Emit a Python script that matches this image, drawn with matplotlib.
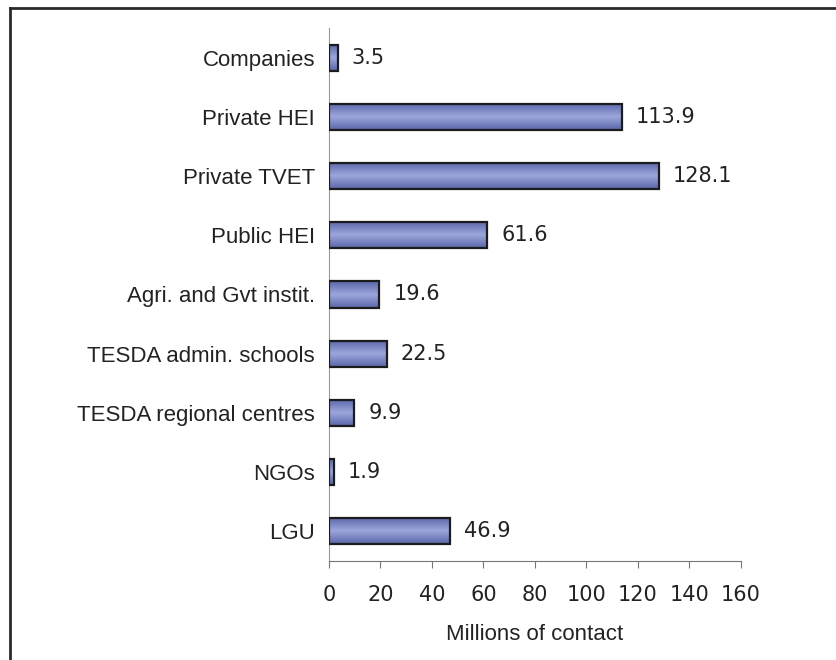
import numpy as np
import matplotlib.pyplot as plt
from matplotlib.colors import LinearSegmentedColormap
from matplotlib.lines import Line2D

categories = ['Companies', 'Private HEI', 'Private TVET', 'Public HEI',
              'Agri. and Gvt instit.', 'TESDA admin. schools',
              'TESDA regional centres', 'NGOs', 'LGU']
values = [3.5, 113.9, 128.1, 61.6, 19.6, 22.5, 9.9, 1.9, 46.9]
xticks = [0, 20, 40, 60, 80, 100, 120, 140, 160]

plt.rcParams['font.family'] = ['Liberation Sans', 'DejaVu Sans']
txt = '#222222'
numfont = 'DejaVu Sans'

fig = plt.figure(figsize=(8.37, 6.6), dpi=100)
ax = fig.add_axes([0.393, 0.15, 0.492, 0.8076])

# shaded bar fill: dark at the edges, light in the middle
shade = LinearSegmentedColormap.from_list('shade', ['#5a65ab', '#9ea7db', '#5a65ab'])
grad = np.linspace(0, 1, 64).reshape(-1, 1)
h = 0.44
for i, v in enumerate(values):
    ax.imshow(grad, extent=[0, v, i + h / 2, i - h / 2], cmap=shade,
              aspect='auto', interpolation='bicubic', zorder=2)
ax.barh(range(len(values)), values, height=h, facecolor='none',
        edgecolor='#1c1c1c', linewidth=1.6, zorder=3)

for i, v in enumerate(values):
    ax.annotate(f'{v}', (v, i), xytext=(10, 0), textcoords='offset points',
                va='center', ha='left', fontsize=15, color=txt, family=numfont)

ax.set_xlim(0, 160)
ax.set_ylim(len(values) - 0.5, -0.5)
ax.set_xticks(xticks)
ax.set_xticklabels([str(t) for t in xticks], family=numfont)
ax.set_yticks(range(len(categories)))
ax.set_yticklabels(categories)

ax.spines['top'].set_visible(False)
ax.spines['right'].set_visible(False)
ax.spines['left'].set_color('#999999')
ax.spines['bottom'].set_color('#777777')
ax.tick_params(axis='y', length=0, pad=10, labelsize=16, labelcolor=txt)
ax.tick_params(axis='x', length=5, color='#777777', pad=12, labelsize=15,
               labelcolor=txt)
ax.set_xlabel('Millions of contact', fontsize=16, color=txt, labelpad=14)

# outer frame (top and left edges)
fig.add_artist(Line2D([0.0125, 0.0125], [0, 0.988], transform=fig.transFigure,
                      color='#2a2a2a', linewidth=2))
fig.add_artist(Line2D([0.0125, 1], [0.988, 0.988], transform=fig.transFigure,
                      color='#2a2a2a', linewidth=2))

fig.savefig('out.png', dpi=100)
